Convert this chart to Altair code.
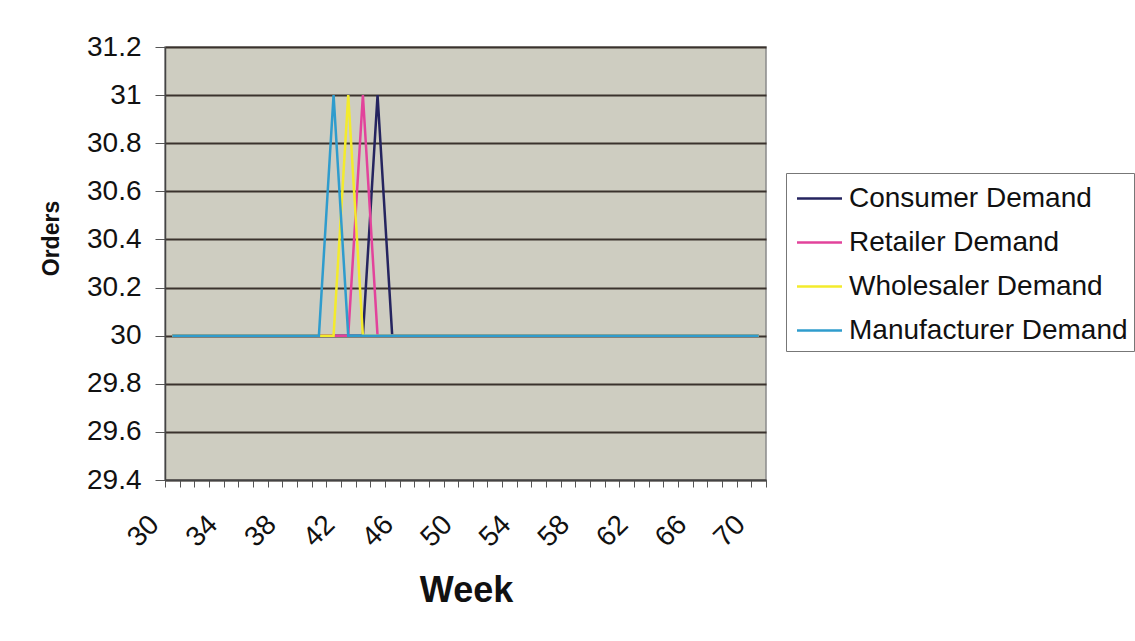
import altair as alt
import pandas as pd

weeks = list(range(30, 71))
series_names = ["Consumer Demand", "Retailer Demand", "Wholesaler Demand", "Manufacturer Demand"]
series_colors = ["#25245f", "#e2439b", "#f3eb2c", "#2f9ccd"]
peak_week = {"Consumer Demand": 44, "Retailer Demand": 43, "Wholesaler Demand": 42, "Manufacturer Demand": 41}
base_orders = 30
peak_orders = 31
y_ticks = [29.4, 29.6, 29.8, 30, 30.2, 30.4, 30.6, 30.8, 31, 31.2]

rows = []
for s in series_names:
    for w in weeks:
        rows.append({"Week": w, "Orders": peak_orders if w == peak_week[s] else base_orders, "Series": s})
df = pd.DataFrame(rows)

FONT = "Liberation Sans"

chart = alt.Chart(df).mark_line(strokeWidth=2.5).encode(
    x=alt.X("Week:O",
            scale=alt.Scale(type="band", paddingInner=0, paddingOuter=0),
            sort=weeks,
            axis=alt.Axis(title="Week", tickBand="extent", labelAngle=315,
                          labelAlign="right", labelBaseline="middle",
                          labelExpr="datum.value % 4 == 2 ? datum.label : ''",
                          labelOverlap=False, labelBound=False,
                          labelOffset=-18, labelPadding=33,
                          labelFont=FONT, labelFontSize=28, labelColor="#111111",
                          tickSize=7, tickColor="#555555", tickWidth=1,
                          domainColor="#444444", domainWidth=1.5,
                          titleFont=FONT, titleFontSize=36, titleFontWeight="bold",
                          titleColor="#111111", titleBaseline="middle",
                          titleX=301, titleY=110, grid=False)),
    y=alt.Y("Orders:Q",
            scale=alt.Scale(domain=[29.4, 31.2], nice=False, zero=False),
            axis=alt.Axis(title="Orders", values=y_ticks, format="~g",
                          labelFont=FONT, labelFontSize=28, labelColor="#111111",
                          labelPadding=14, tickSize=10, tickColor="#555555",
                          domainColor="#444444", domainWidth=1.5,
                          grid=True, gridColor="#3a322d", gridWidth=1.8,
                          titleFont=FONT, titleFontSize=23, titleFontWeight="bold",
                          titleColor="#111111", titleAngle=270,
                          titleAlign="center", titleBaseline="middle",
                          titleX=-114, titleY=191)),
    color=alt.Color("Series:N",
                    scale=alt.Scale(domain=series_names, range=series_colors),
                    legend=alt.Legend(title=None, orient="none", legendX=621, legendY=126,
                                      labelFont=FONT, labelFontSize=28, labelColor="#111111",
                                      symbolType="M-1.25,0H1.25", symbolSize=1296,
                                      symbolStrokeWidth=2.5, symbolOffset=8,
                                      labelOffset=10, rowPadding=10, padding=6,
                                      strokeColor="#777777", fillColor="#ffffff",
                                      labelLimit=400)),
).properties(
    width=601, height=433,
    autosize=alt.AutoSizeParams(type="none"),
    padding={"left": 165, "top": 47, "right": 369, "bottom": 161},
    background="#ffffff",
).configure_view(
    fill="#cecdc1", stroke="#8a8a8a", strokeWidth=1.5
)

chart.save("out.html", embed_options={"renderer": "svg", "actions": False})
